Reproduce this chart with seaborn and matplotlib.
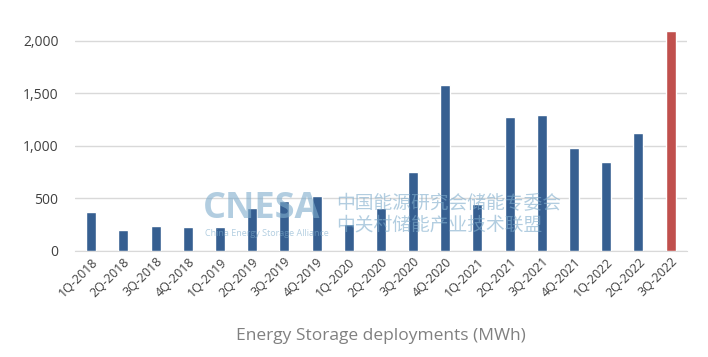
import pandas as pd
import matplotlib.pyplot as plt
import seaborn as sns
from matplotlib.ticker import FuncFormatter

# -------------------------
# Data
# -------------------------
quarters = ["1Q-2018", "2Q-2018", "3Q-2018", "4Q-2018",
            "1Q-2019", "2Q-2019", "3Q-2019", "4Q-2019",
            "1Q-2020", "2Q-2020", "3Q-2020", "4Q-2020",
            "1Q-2021", "2Q-2021", "3Q-2021", "4Q-2021",
            "1Q-2022", "2Q-2022", "3Q-2022"]
deployments = [371, 203, 238, 224, 228, 411, 477, 527, 258, 413, 755, 1581,
               451, 1270, 1292, 978, 845, 1127, 2095]
highlight = ["past"] * 18 + ["latest"]

df = pd.DataFrame({"quarter": quarters, "mwh": deployments, "group": highlight})

# -------------------------
# Plot
# -------------------------
sns.set_style("white")
plt.rcParams["font.family"] = ["Open Sans", "Noto Sans CJK SC", "DejaVu Sans"]

fig = plt.figure(figsize=(7.08, 3.57), dpi=100)
ax = fig.add_axes([0.106, 0.297, 0.864, 0.633])

sns.barplot(data=df, x="quarter", y="mwh", hue="group",
            palette={"past": "#365f91", "latest": "#c0504d"},
            saturation=1, dodge=False, width=0.31, legend=False,
            ax=ax, zorder=3)

ax.set_ylim(0, 2150)
ax.set_xlim(-0.5, len(quarters) - 0.5)
ax.set_yticks([0, 500, 1000, 1500, 2000])
ax.yaxis.set_major_formatter(FuncFormatter(lambda v, p: f"{int(v):,}"))
ax.grid(axis="y", color="#d9d9d9", linewidth=1, zorder=0)
for s in ["top", "right", "left"]:
    ax.spines[s].set_visible(False)
ax.spines["bottom"].set_color("#d9d9d9")

ax.tick_params(axis="y", length=0, pad=12, labelsize=10, labelcolor="#404040")
ax.tick_params(axis="x", length=0, pad=3, labelsize=9, labelcolor="#404040")
plt.setp(ax.get_xticklabels(), rotation=45, ha="right", rotation_mode="anchor")

ax.set_ylabel("")
ax.set_xlabel("Energy Storage deployments (MWh)", fontsize=12.5,
              color="#808080", labelpad=21)

# watermark
wm = "#7fadcc"
fig.text(0.287, 0.39, "CNESA", fontsize=26, fontweight="bold", color=wm,
         alpha=0.6, zorder=10)
fig.text(0.29, 0.34, "China Energy Storage Alliance", fontsize=6.5, color=wm,
         alpha=0.6, zorder=10)
fig.text(0.475, 0.415, "中国能源研究会储能专委会", fontsize=13.5, color=wm,
         alpha=0.6, zorder=10)
fig.text(0.475, 0.355, "中关村储能产业技术联盟", fontsize=13.5, color=wm,
         alpha=0.6, zorder=10)

plt.savefig("out.png", dpi=100)
plt.close()
